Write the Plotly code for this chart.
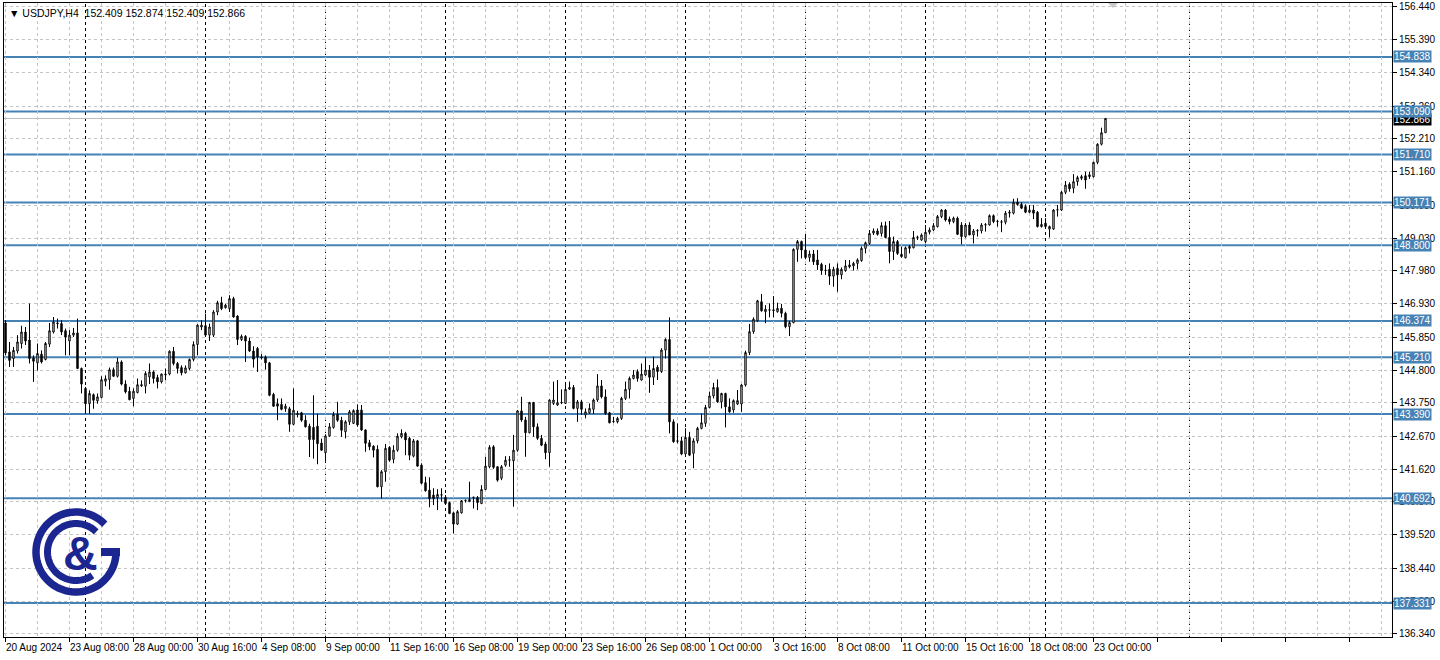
import math
import plotly.graph_objects as go

# ---------------- data ----------------
opens = [
    146.31, 145.38, 145.17, 145.41, 145.65, 146.02, 145.76, 145.19, 145.03, 145.31,
    145.14, 145.63, 146.02, 146.31, 146.29, 146.06, 145.73, 145.92, 145.99, 144.85,
    144.21, 143.72, 144.01, 143.81, 143.92, 144.44, 144.49, 144.81, 144.60, 145.06,
    144.35, 144.12, 143.89, 144.08, 144.29, 144.28, 144.58, 144.74, 144.56, 144.42,
    144.67, 144.67, 145.40, 145.01, 144.88, 144.71, 144.85, 145.14, 145.62, 146.18,
    146.22, 145.92, 145.92, 146.66, 146.96, 146.80, 146.77, 147.09, 146.53, 145.78,
    145.88, 145.73, 145.41, 145.49, 145.22, 145.22, 145.03, 144.02, 143.72, 143.70,
    143.56, 143.56, 143.06, 143.40, 143.43, 143.19, 143.00, 142.96, 143.00, 142.46,
    142.15, 142.69, 142.96, 143.38, 143.19, 142.82, 143.14, 143.09, 143.52, 143.52,
    142.88, 142.47, 142.36, 142.26, 141.06, 141.54, 142.32, 141.94, 142.23, 142.66,
    142.77, 142.61, 142.04, 142.53, 141.75, 141.19, 140.95, 140.79, 140.71, 140.79,
    140.72, 140.55, 140.22, 139.86, 140.22, 140.61, 140.58, 140.71, 140.71, 140.52,
    140.97, 141.70, 142.34, 141.70, 141.33, 141.75, 141.91, 141.89, 142.23, 143.49,
    143.20, 142.79, 143.76, 142.98, 142.61, 142.43, 142.15, 143.73, 143.68, 143.75,
    143.73, 144.19, 144.24, 143.57, 143.78, 143.36, 143.43, 143.54, 143.84, 144.29,
    143.94, 143.43, 143.14, 143.14, 143.25, 143.89, 144.18, 144.53, 144.75, 144.48,
    144.64, 144.80, 144.57, 144.89, 144.75, 145.44, 145.78, 143.14, 142.53, 142.53,
    142.11, 142.64, 142.13, 142.53, 142.93, 143.09, 143.60, 143.97, 144.24, 143.78,
    144.05, 143.62, 143.52, 143.71, 143.71, 144.32, 145.36, 146.03, 146.38, 146.99,
    146.67, 146.72, 146.73, 146.67, 146.78, 146.62, 146.19, 146.32, 148.67, 148.92,
    148.65, 148.41, 148.52, 148.33, 148.19, 147.99, 148.03, 147.81, 148.06, 147.85,
    147.99, 148.11, 148.14, 148.22, 148.31, 148.70, 148.86, 149.19, 149.26, 149.18,
    149.43, 149.05, 148.60, 148.92, 148.51, 148.40, 148.70, 148.72, 149.05, 148.97,
    148.92, 149.22, 149.29, 149.40, 149.72, 149.93, 149.64, 149.56, 149.67, 149.45,
    149.08, 149.45, 149.13, 149.26, 149.26, 149.45, 149.45, 149.75, 149.56, 149.54,
    149.54, 149.83, 149.83, 150.18, 150.11, 150.04, 149.86, 149.93, 149.86, 149.40,
    149.51, 149.32, 149.32, 149.93, 149.93, 150.50, 150.76, 150.63, 150.84, 150.95,
    151.03, 151.00, 151.00, 151.46, 152.04, 152.409,
]
highs = [
    146.40, 145.70, 145.54, 145.92, 146.22, 146.18, 146.93, 145.27, 145.65, 145.43,
    145.70, 146.31, 146.50, 146.45, 146.40, 146.13, 146.08, 146.15, 146.45, 144.88,
    144.26, 144.15, 144.05, 144.05, 144.60, 144.63, 144.88, 144.88, 145.19, 145.11,
    144.47, 144.26, 144.21, 144.53, 144.47, 144.76, 145.01, 144.79, 144.65, 144.69,
    144.85, 145.43, 145.54, 145.06, 144.95, 144.95, 145.17, 145.72, 146.27, 146.40,
    146.61, 146.29, 146.72, 147.02, 147.15, 146.93, 147.20, 147.15, 146.56, 145.94,
    145.92, 145.84, 145.56, 145.54, 145.31, 145.27, 145.06, 144.07, 143.89, 143.89,
    143.72, 143.62, 144.21, 143.49, 143.46, 143.35, 143.08, 143.99, 143.40, 142.60,
    142.74, 143.10, 143.46, 143.78, 143.30, 143.19, 143.52, 143.54, 143.70, 143.68,
    142.90, 142.56, 142.39, 142.39, 141.59, 142.43, 142.36, 142.39, 142.77, 142.90,
    142.82, 142.66, 142.59, 142.56, 141.81, 141.38, 141.36, 141.01, 140.98, 141.01,
    140.79, 140.58, 140.26, 140.31, 140.63, 140.65, 141.22, 140.74, 140.76, 141.11,
    142.02, 142.39, 142.39, 141.72, 141.75, 142.04, 142.04, 142.72, 143.52, 143.94,
    143.30, 143.78, 143.78, 143.09, 142.72, 142.50, 143.86, 144.43, 144.48, 144.18,
    144.37, 144.43, 144.32, 143.84, 143.84, 143.57, 143.73, 143.89, 144.67, 144.48,
    144.18, 143.46, 143.30, 143.30, 143.94, 144.43, 144.59, 144.80, 144.82, 145.01,
    145.21, 144.96, 145.23, 144.96, 145.50, 145.82, 146.49, 143.22, 143.09, 142.66,
    142.93, 142.82, 142.61, 142.98, 143.41, 143.68, 144.11, 144.39, 144.50, 144.07,
    144.07, 143.89, 143.86, 144.16, 144.35, 145.42, 146.28, 146.49, 147.05, 147.24,
    146.88, 146.94, 147.17, 146.96, 146.92, 146.67, 146.38, 148.70, 148.97, 148.95,
    149.13, 148.63, 148.65, 148.65, 148.24, 148.17, 148.22, 148.11, 148.22, 148.09,
    148.33, 148.33, 148.27, 148.38, 148.76, 148.92, 149.29, 149.34, 149.34, 149.54,
    149.56, 149.58, 149.08, 148.97, 148.76, 148.76, 148.81, 149.26, 149.11, 149.18,
    149.45, 149.37, 149.51, 149.77, 149.96, 149.96, 149.72, 149.72, 149.72, 149.54,
    149.51, 149.54, 149.32, 149.32, 149.51, 149.51, 149.79, 149.79, 149.61, 149.61,
    149.90, 149.93, 150.29, 150.31, 150.18, 150.11, 150.09, 150.09, 149.90, 149.67,
    149.67, 149.43, 149.96, 150.09, 150.54, 150.86, 150.82, 151.08, 151.03, 151.06,
    151.16, 151.16, 151.48, 152.07, 152.57, 152.874,
]
lows = [
    145.27, 144.90, 144.90, 145.33, 145.49, 145.60, 145.01, 144.42, 144.79, 145.01,
    145.11, 145.54, 145.97, 146.13, 145.92, 145.27, 145.27, 145.86, 144.85, 144.05,
    143.40, 143.40, 143.56, 143.72, 143.89, 144.28, 144.17, 144.58, 144.56, 144.31,
    144.05, 143.83, 143.64, 144.05, 144.26, 144.05, 144.35, 144.37, 144.21, 144.37,
    144.47, 144.63, 144.95, 144.69, 144.63, 144.69, 144.79, 145.08, 145.27, 146.08,
    145.86, 145.73, 145.86, 146.56, 146.72, 146.77, 146.66, 146.48, 145.60, 145.73,
    145.06, 145.38, 144.88, 144.74, 145.14, 144.81, 143.96, 143.62, 143.19, 143.51,
    143.46, 142.82, 143.03, 143.28, 143.14, 142.96, 142.01, 141.96, 141.78, 142.21,
    141.86, 142.66, 142.92, 143.14, 142.66, 142.61, 143.04, 143.07, 142.98, 142.85,
    142.18, 142.23, 142.00, 141.04, 140.68, 141.22, 141.86, 141.81, 142.18, 142.61,
    142.07, 141.91, 142.00, 141.70, 141.14, 140.90, 140.40, 140.47, 140.31, 140.58,
    140.50, 140.18, 139.56, 139.83, 140.20, 140.55, 140.58, 140.36, 140.31, 140.50,
    140.95, 141.65, 141.63, 141.22, 141.27, 141.70, 141.70, 140.42, 142.18, 143.14,
    142.02, 142.77, 142.66, 142.56, 142.36, 141.94, 141.70, 143.68, 143.65, 143.71,
    143.71, 144.16, 143.54, 143.14, 143.36, 143.25, 143.39, 143.39, 143.78, 143.89,
    143.36, 143.09, 143.11, 143.09, 143.20, 143.84, 143.89, 144.50, 144.43, 144.46,
    144.61, 144.07, 144.32, 144.48, 144.71, 145.17, 142.77, 142.47, 142.45, 142.07,
    142.07, 142.04, 141.65, 142.45, 142.90, 142.98, 143.57, 143.89, 143.75, 143.57,
    142.96, 143.43, 143.43, 143.68, 143.46, 144.27, 145.28, 145.96, 146.35, 146.67,
    146.30, 146.49, 146.49, 146.64, 146.49, 146.14, 145.89, 146.30, 148.27, 148.38,
    148.35, 148.27, 148.17, 148.01, 147.85, 147.85, 147.53, 147.47, 147.31, 147.71,
    147.95, 148.06, 147.99, 148.03, 148.27, 148.54, 148.81, 149.13, 149.11, 149.08,
    149.02, 148.22, 148.33, 148.49, 148.40, 148.38, 148.54, 148.70, 148.97, 148.94,
    148.86, 149.15, 149.26, 149.37, 149.67, 149.56, 149.47, 149.51, 149.13, 148.83,
    149.04, 149.13, 148.86, 149.08, 149.18, 149.24, 149.43, 149.51, 149.40, 149.22,
    149.47, 149.69, 149.79, 150.07, 149.96, 149.83, 149.83, 149.64, 149.37, 149.37,
    149.34, 149.05, 149.29, 149.72, 149.90, 150.44, 150.52, 150.47, 150.71, 150.89,
    150.61, 150.93, 150.97, 151.40, 152.00, 152.409,
]
closes = [
    145.35, 145.11, 145.43, 145.70, 146.02, 145.73, 145.17, 145.08, 145.33, 145.06,
    145.65, 146.06, 146.34, 146.29, 146.02, 145.86, 145.92, 145.99, 144.85, 144.35,
    143.72, 144.05, 143.83, 143.94, 144.49, 144.52, 144.81, 144.60, 145.06, 144.35,
    144.10, 143.85, 144.12, 144.33, 144.33, 144.69, 144.74, 144.53, 144.42, 144.67,
    144.65, 145.40, 145.01, 144.85, 144.71, 144.87, 145.14, 145.62, 146.24, 146.24,
    145.92, 146.18, 146.66, 146.96, 146.77, 146.88, 147.09, 146.50, 145.78, 145.88,
    145.73, 145.41, 145.15, 145.22, 145.20, 145.03, 143.99, 143.64, 143.64, 143.54,
    143.64, 143.06, 143.51, 143.38, 143.19, 142.98, 142.57, 142.57, 142.44, 142.23,
    142.69, 142.98, 143.38, 143.19, 142.87, 143.14, 143.46, 143.50, 143.04, 142.88,
    142.45, 142.34, 142.23, 141.06, 141.54, 142.29, 141.91, 142.23, 142.68, 142.77,
    142.56, 142.07, 142.53, 141.72, 141.17, 140.93, 140.68, 140.68, 140.81, 140.80,
    140.52, 140.20, 139.86, 140.26, 140.61, 140.62, 140.65, 140.72, 140.55, 140.97,
    141.72, 142.32, 141.68, 141.27, 141.70, 141.91, 141.92, 142.23, 143.49, 143.20,
    142.79, 143.76, 142.98, 142.61, 142.39, 142.15, 143.84, 143.84, 143.75, 143.76,
    144.18, 144.24, 143.57, 143.78, 143.54, 143.46, 143.57, 143.84, 144.29, 143.94,
    143.41, 143.11, 143.15, 143.25, 143.89, 144.18, 144.53, 144.64, 144.53, 144.67,
    144.80, 144.57, 144.85, 144.75, 145.44, 145.78, 143.14, 142.50, 142.52, 142.11,
    142.64, 142.07, 142.53, 142.93, 143.11, 143.60, 143.97, 144.24, 143.78, 144.05,
    143.62, 143.46, 143.82, 143.82, 144.32, 145.36, 146.03, 146.43, 147.02, 146.70,
    146.75, 146.73, 146.71, 146.78, 146.62, 146.19, 146.32, 148.67, 148.92, 148.65,
    148.41, 148.52, 148.27, 148.17, 147.99, 148.00, 147.81, 148.03, 147.85, 148.03,
    148.14, 148.17, 148.22, 148.33, 148.70, 148.88, 149.18, 149.26, 149.15, 149.43,
    149.05, 148.60, 148.92, 148.54, 148.44, 148.72, 148.76, 149.05, 149.06, 149.13,
    149.22, 149.29, 149.43, 149.72, 149.93, 149.61, 149.56, 149.67, 149.15, 149.08,
    149.45, 149.13, 149.26, 149.27, 149.45, 149.46, 149.75, 149.56, 149.57, 149.55,
    149.83, 149.86, 150.18, 150.11, 149.99, 149.86, 149.93, 149.83, 149.40, 149.47,
    149.40, 149.40, 149.93, 149.94, 150.50, 150.73, 150.61, 150.84, 150.97, 151.00,
    150.89, 151.06, 151.46, 152.04, 152.409, 152.866,
]
bar_index = list(range(len(opens)))

time_label_index = [0, 16, 32, 48, 64, 80, 96, 112, 128, 144, 160, 176, 192, 208, 224, 240, 256, 272]
time_labels = [
    "20 Aug 2024", "23 Aug 08:00", "28 Aug 00:00", "30 Aug 16:00", "4 Sep 08:00",
    "9 Sep 00:00", "11 Sep 16:00", "16 Sep 08:00", "19 Sep 00:00", "23 Sep 16:00",
    "26 Sep 08:00", "1 Oct 00:00", "3 Oct 16:00", "8 Oct 08:00", "11 Oct 00:00",
    "15 Oct 16:00", "18 Oct 08:00", "23 Oct 00:00",
]
week_separators = [20, 50, 80, 110, 140, 170, 200, 230, 260, 296]

price_ticks = [156.440, 155.390, 154.340, 153.260, 152.210, 151.160, 150.080, 149.030,
               147.980, 146.930, 145.850, 144.800, 143.750, 142.670, 141.620, 140.570,
               139.520, 138.440, 137.390, 136.340]
levels = [154.838, 153.090, 151.710, 150.171, 148.800, 146.374, 145.210, 143.390, 140.692, 137.331]
bid_price = 152.866
symbol = "USDJPY,H4"
ohlc_header = [152.409, 152.874, 152.409, 152.866]

# ---------------- layout geometry ----------------
W, H = 1440, 660
ML, MR, MT, MB = 4, 48, 3, 23
PW = W - ML - MR
PH = H - MT - MB
X_RANGE = [-0.375, 346.625]
Y_RANGE = [136.241, 156.568]
FONT = "Liberation Sans, Arial, sans-serif"
BLUE = "#4682B4"
GRID = "#c4c4c4"
NAVY = "#1c2690"


def px2paper(px, py):
    return (px - ML) / PW, (H - MB - py) / PH


def arc_path(cx, cy, r, a0, a1, n=80):
    pts = []
    for k in range(n + 1):
        a = math.radians(a0 + (a1 - a0) * k / n)
        x, y = px2paper(cx + r * math.cos(a), cy - r * math.sin(a))
        pts.append(f"{x:.5f},{y:.5f}")
    return "M " + " L ".join(pts)


fig = go.Figure()
fig.add_trace(go.Candlestick(
    x=bar_index, open=opens, high=highs, low=lows, close=closes,
    increasing=dict(line=dict(color="black", width=1), fillcolor="white"),
    decreasing=dict(line=dict(color="black", width=1), fillcolor="black"),
    whiskerwidth=0, hoverinfo="skip", showlegend=False,
))

shapes = []
for s in week_separators:
    shapes.append(dict(type="line", xref="x", yref="y", x0=s, x1=s, y0=Y_RANGE[0], y1=Y_RANGE[1],
                       line=dict(color="black", width=1, dash="3px,3px"), layer="below"))
for lv in levels:
    shapes.append(dict(type="line", xref="x", yref="y", x0=X_RANGE[0], x1=X_RANGE[1], y0=lv, y1=lv,
                       line=dict(color=BLUE, width=2), layer="below"))
shapes.append(dict(type="line", xref="x", yref="y", x0=X_RANGE[0], x1=X_RANGE[1], y0=bid_price, y1=bid_price,
                   line=dict(color="#bdbdbd", width=1), layer="below"))

# chart-shift marker
tx = [px2paper(1108, 3), px2paper(1118, 3), px2paper(1113, 8)]
shapes.append(dict(type="path", xref="paper", yref="paper",
                   path="M {0[0]},{0[1]} L {1[0]},{1[1]} L {2[0]},{2[1]} Z".format(*tx),
                   fillcolor="#c8c8c8", line=dict(width=0), layer="above"))

# logo
shapes.append(dict(type="path", xref="paper", yref="paper", path=arc_path(76, 552, 40, 44, 358),
                   line=dict(color=NAVY, width=7.5), layer="above"))
shapes.append(dict(type="path", xref="paper", yref="paper", path=arc_path(76, 552, 28.5, 45, 305),
                   line=dict(color=NAVY, width=7), layer="above"))
bx0, by0 = px2paper(101, 548)
bx1, by1 = px2paper(120, 556)
shapes.append(dict(type="rect", xref="paper", yref="paper", x0=bx0, x1=bx1, y0=by1, y1=by0,
                   fillcolor=NAVY, line=dict(width=0), layer="above"))

annotations = []
for idx, txt in zip(time_label_index, time_labels):
    annotations.append(dict(x=idx, xref="x", y=0, yref="paper", text=txt, showarrow=False,
                            xanchor="left", yanchor="top", xshift=-2, yshift=-3,
                            font=dict(family=FONT, size=10, color="black")))
# bid label first so the level labels sit on top of it
annotations.append(dict(x=1, xref="paper", y=bid_price, yref="y", text=f"{bid_price:.3f}", showarrow=False,
                        xanchor="left", yanchor="middle", xshift=1, yshift=-1, bgcolor="black", borderpad=0,
                        font=dict(family=FONT, size=10, color="white")))
for lv in levels:
    annotations.append(dict(x=1, xref="paper", y=lv, yref="y", text=f"{lv:.3f}", showarrow=False,
                            xanchor="left", yanchor="middle", xshift=1, bgcolor=BLUE, borderpad=0,
                            font=dict(family=FONT, size=10, color="white")))
annotations.append(dict(x=0, xref="paper", y=1, yref="paper",
                        text="▼ " + symbol + "&nbsp;&nbsp;" + " ".join(f"{v:.3f}" for v in ohlc_header),
                        showarrow=False, xanchor="left", yanchor="top", xshift=3, yshift=-2,
                        font=dict(family=FONT, size=10.5, color="black")))
lx, ly = px2paper(80, 553)
annotations.append(dict(x=lx, y=ly, xref="paper", yref="paper", text="<b>&amp;</b>", showarrow=False,
                        xanchor="center", yanchor="middle",
                        font=dict(family="Liberation Sans, Arial, sans-serif", size=48, color=NAVY)))

fig.update_layout(
    width=W, height=H,
    margin=dict(l=ML, r=MR, t=MT, b=MB, pad=0),
    paper_bgcolor="white", plot_bgcolor="white",
    showlegend=False, boxgap=0.5, hovermode=False,
    shapes=shapes, annotations=annotations,
    xaxis=dict(
        range=X_RANGE, rangeslider=dict(visible=False), fixedrange=True,
        tickvals=list(range(0, 347, 16)), showticklabels=False,
        ticks="outside", ticklen=4, tickcolor="black",
        showgrid=True, gridcolor=GRID, griddash="3px,3px", gridwidth=1,
        minor=dict(tickvals=list(range(8, 347, 16)), showgrid=True, gridcolor=GRID,
                   griddash="3px,3px", gridwidth=1, ticks=""),
        showline=True, linecolor="black", linewidth=1, mirror=True, zeroline=False,
    ),
    yaxis=dict(
        range=Y_RANGE, side="right", fixedrange=True, automargin=False,
        tickvals=price_ticks, ticktext=[f"{v:.3f}" for v in price_ticks],
        ticks="outside", ticklen=4, tickcolor="black",
        tickfont=dict(family=FONT, size=10, color="black"),
        showgrid=True, gridcolor=GRID, griddash="3px,3px", gridwidth=1,
        showline=True, linecolor="black", linewidth=1, mirror=True, zeroline=False,
    ),
)

fig.write_html(
    "out.html",
    config={"displayModeBar": False, "responsive": False},
    post_script="document.body.style.margin='0px';document.body.style.padding='0px';"
                "document.body.style.overflow='hidden';",
)
